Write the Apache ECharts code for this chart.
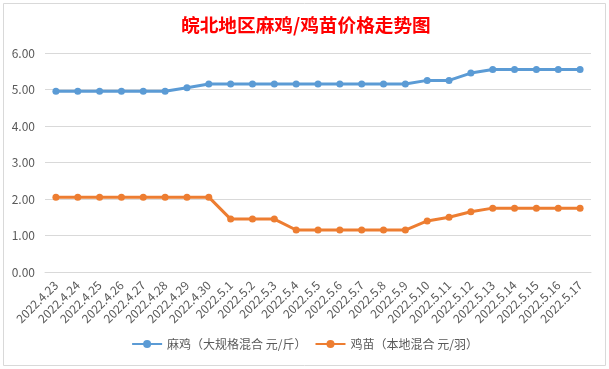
<!DOCTYPE html>
<html><head><meta charset="utf-8">
<script src="https://cdn.jsdelivr.net/npm/echarts@6/dist/echarts.min.js"></script>
<style>html,body{margin:0;padding:0;background:#fff}#c{width:609px;height:369px}</style>
</head><body><div id="c"></div>
<script>
const categories = ['2022.4.23','2022.4.24','2022.4.25','2022.4.26','2022.4.27','2022.4.28','2022.4.29','2022.4.30','2022.5.1','2022.5.2','2022.5.3','2022.5.4','2022.5.5','2022.5.6','2022.5.7','2022.5.8','2022.5.9','2022.5.10','2022.5.11','2022.5.12','2022.5.13','2022.5.14','2022.5.15','2022.5.16','2022.5.17'];
const maji = [4.95,4.95,4.95,4.95,4.95,4.95,5.05,5.15,5.15,5.15,5.15,5.15,5.15,5.15,5.15,5.15,5.15,5.25,5.25,5.45,5.55,5.55,5.55,5.55,5.55];
const jimiao = [2.05,2.05,2.05,2.05,2.05,2.05,2.05,2.05,1.45,1.45,1.45,1.15,1.15,1.15,1.15,1.15,1.15,1.4,1.5,1.65,1.75,1.75,1.75,1.75,1.75];
const seriesNames = ['麻鸡（大规格混合 元/斤）','鸡苗（本地混合 元/羽）'];
const titleText = '皖北地区麻鸡/鸡苗价格走势图';

const chart = echarts.init(document.getElementById('c'));
const font = '"Noto Sans CJK SC", "Microsoft YaHei", sans-serif';
chart.setOption({
  animation: false,
  backgroundColor: '#fff',
  textStyle: {fontFamily: font},
  title: {
    text: titleText, left: 176, top: 11,
    textStyle: {color: '#FF0000', fontSize: 18.67, fontWeight: 'bold', fontFamily: font}
  },
  graphic: [{
    type: 'rect', shape: {x: 3.5, y: 3.5, width: 602, height: 362},
    style: {fill: 'none', stroke: '#D9D9D9', lineWidth: 1}, silent: true
  }],
  legend: {
    data: seriesNames, bottom: 14, left: 'center', itemGap: 8,
    itemWidth: 30, itemHeight: 10,
    textStyle: {color: '#595959', fontSize: 12, fontFamily: font}
  },
  grid: {left: 45, right: 18, top: 53, bottom: 97},
  xAxis: {
    type: 'category', data: categories, boundaryGap: true,
    axisLine: {show: true, lineStyle: {color: '#D9D9D9'}},
    axisTick: {show: false},
    axisLabel: {rotate: 45, interval: 0, color: '#595959', fontSize: 12, margin: 11, fontFamily: font}
  },
  yAxis: {
    type: 'value', min: 0, max: 6, interval: 1,
    axisLine: {show: false}, axisTick: {show: false},
    splitLine: {lineStyle: {color: '#D9D9D9'}},
    axisLabel: {color: '#595959', fontSize: 12, margin: 10, formatter: v => v.toFixed(2), fontFamily: font}
  },
  series: [
    {name: seriesNames[0], type: 'line', data: maji, color: '#5B9BD5',
     symbol: 'circle', symbolSize: 7, lineStyle: {width: 3}},
    {name: seriesNames[1], type: 'line', data: jimiao, color: '#ED7D31',
     symbol: 'circle', symbolSize: 7, lineStyle: {width: 3}}
  ]
});
</script></body></html>
